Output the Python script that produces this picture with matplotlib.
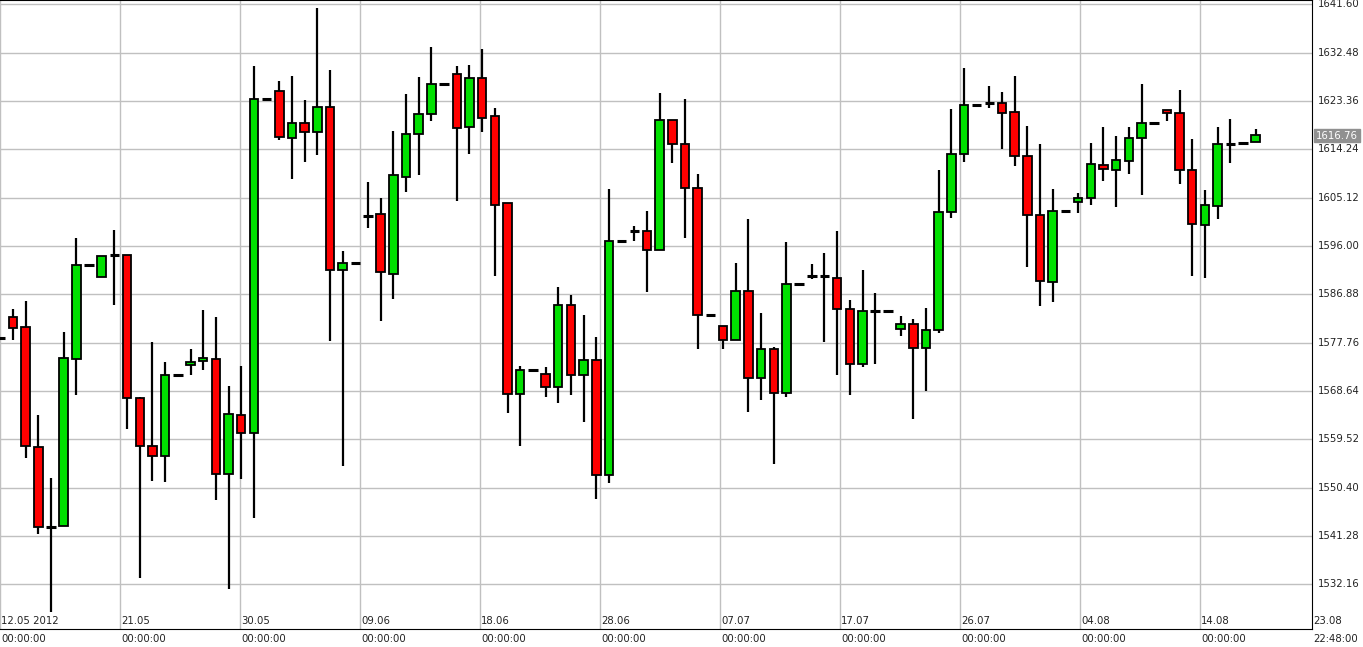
import matplotlib
matplotlib.use("Agg")
import matplotlib.pyplot as plt
import numpy as np

opens = [1578.6,1582.5,1580.6,1558.1,1542.9,1543.2,1574.7,1592.3,1590.2,1594.2,
         1594.2,1567.2,1558.3,1556.3,1571.7,1573.5,1574.2,1574.6,1553.0,1564.1,
         1560.6,1623.7,1625.2,1616.3,1619.2,1617.5,1622.2,1591.4,1592.7,1601.7,
         1602.0,1590.7,1609.0,1617.1,1620.9,1626.5,1628.4,1618.4,1627.7,1620.5,
         1604.1,1568.1,1572.5,1571.9,1569.4,1584.8,1571.6,1574.4,1552.8,1596.9,
         1598.8,1598.8,1595.2,1619.8,1615.2,1607.0,1582.9,1580.9,1578.3,1587.4,
         1571.1,1576.6,1568.3,1588.8,1590.4,1590.4,1590.0,1584.0,1573.7,1583.7,
         1583.8,1580.3,1581.3,1576.7,1580.1,1602.4,1613.4,1622.6,1623.0,1622.9,
         1621.2,1613.0,1601.8,1589.1,1602.5,1604.2,1605.1,1611.3,1610.4,1612.1,
         1616.3,1619.2,1621.6,1621.1,1610.3,1599.9,1603.6,1615.3,1615.5,1615.6]
closes = [1578.6,1580.5,1558.3,1542.9,1542.9,1574.9,1592.3,1592.3,1594.0,1594.2,
          1567.2,1558.3,1556.3,1571.7,1571.7,1574.1,1574.8,1553.0,1564.3,1560.6,
          1623.7,1623.7,1616.5,1619.2,1617.4,1622.2,1591.4,1592.7,1592.7,1601.7,
          1591.1,1609.4,1617.1,1620.9,1626.5,1626.5,1618.2,1627.7,1620.2,1603.8,
          1568.1,1572.5,1572.5,1569.4,1584.8,1571.6,1574.4,1552.8,1596.9,1596.9,
          1598.8,1595.2,1619.8,1615.2,1607.0,1582.9,1582.9,1578.3,1587.4,1571.1,
          1576.6,1568.3,1588.8,1588.8,1590.4,1590.4,1584.0,1573.7,1583.8,1583.7,
          1583.8,1581.3,1576.7,1580.1,1602.4,1613.4,1622.6,1622.6,1623.0,1621.0,
          1613.0,1601.8,1589.3,1602.5,1602.5,1605.1,1611.4,1610.5,1612.3,1616.3,
          1619.2,1619.2,1621.0,1610.3,1600.2,1603.8,1615.2,1615.3,1615.5,1616.9]
highs = [1578.6,1584.1,1585.6,1564.1,1552.2,1579.8,1597.5,1592.3,1594.0,1599.0,
         1594.2,1567.5,1577.9,1574.1,1571.7,1576.6,1583.9,1582.6,1569.5,1573.4,
         1629.9,1623.7,1627.2,1628.0,1623.5,1640.8,1629.1,1595.0,1592.7,1608.1,
         1605.0,1617.7,1624.6,1627.9,1633.5,1626.5,1629.9,1630.1,1633.2,1622.0,
         1604.1,1573.4,1572.5,1573.1,1588.2,1586.8,1582.9,1578.8,1606.8,1596.9,
         1599.7,1602.5,1624.8,1619.8,1623.7,1609.6,1582.9,1580.9,1592.8,1601.1,
         1583.3,1576.9,1596.8,1588.8,1592.6,1594.7,1598.9,1585.8,1591.5,1587.2,
         1583.8,1582.8,1582.2,1584.3,1610.4,1621.9,1629.5,1622.6,1626.2,1625.0,
         1628.0,1618.6,1615.2,1606.7,1602.5,1606.0,1615.4,1618.4,1616.7,1618.4,
         1626.5,1619.2,1621.6,1625.5,1616.2,1606.5,1618.5,1620.0,1615.5,1618.0]
lows = [1578.6,1578.3,1555.9,1541.6,1526.9,1543.2,1567.9,1592.3,1590.2,1584.8,
        1561.4,1533.4,1551.7,1551.4,1571.7,1571.6,1572.6,1548.0,1531.2,1552.1,
        1544.7,1623.7,1615.9,1608.7,1611.8,1613.2,1578.1,1554.5,1592.7,1599.4,
        1581.8,1586.0,1606.2,1609.4,1619.6,1626.5,1604.5,1613.4,1617.5,1590.3,
        1564.4,1558.2,1572.5,1567.4,1566.3,1567.8,1562.8,1548.2,1551.3,1596.9,
        1597.0,1587.3,1595.2,1611.6,1597.5,1576.5,1582.9,1576.5,1578.2,1564.6,
        1567.0,1554.9,1567.5,1588.8,1589.7,1577.8,1571.6,1567.8,1573.2,1573.7,
        1583.8,1579.0,1563.3,1568.7,1579.6,1601.3,1611.9,1622.6,1622.1,1614.3,
        1611.0,1592.0,1584.7,1585.4,1602.5,1602.2,1603.7,1608.3,1603.4,1609.6,
        1605.6,1619.2,1619.6,1607.6,1590.3,1590.0,1601.0,1611.6,1615.5,1615.6]

date_labels = ["12.05 2012","21.05","30.05","09.06","18.06","28.06","07.07",
               "17.07","26.07","04.08","14.08"]
price_ticks = [1641.60,1632.48,1623.36,1614.24,1605.12,1596.00,1586.88,
               1577.76,1568.64,1559.52,1550.40,1541.28,1532.16]
last_price = 1616.76

W, H = 1363, 647
fig = plt.figure(figsize=(W/100, H/100), dpi=100)
axw = 1312
ax = fig.add_axes([0, 18/H, axw/W, 1-18/H])
ax.set_xlim(0, axw)
ax.set_ylim(1523.7, 1642.4)

step = 12.68
xs = 0.3 + step*np.arange(len(opens))
for x in [0,120,240,360,480,600,720,840,960,1080,1200]:
    ax.axvline(x, color='#c0c0c0', lw=1, zorder=0)
for p in price_ticks:
    ax.axhline(p, color='#c0c0c0', lw=1, zorder=0)

bw = 8.5
for x, o, c, h, l in zip(xs, opens, closes, highs, lows):
    ax.vlines(x, l, h, color='black', lw=1.6, zorder=2)
    if abs(o-c) < 0.3:
        ax.hlines(o, x-bw/2-0.5, x+bw/2+0.5, color='black', lw=2.2, zorder=3)
    else:
        col = '#00e000' if c > o else '#ff0000'
        ax.bar(x, c-o, bottom=o, width=bw, color=col, edgecolor='black', lw=1.3, zorder=3)

for sp in ['left']:
    ax.spines[sp].set_visible(False)
for sp in ['top','right','bottom']:
    ax.spines[sp].set_color('black')
ax.set_xticks([]); ax.set_yticks([])

fs = 7.3
for i, lab in enumerate(date_labels):
    x = i*120
    ax.text(x+1, 1524.3, lab, fontsize=fs, ha='left', va='bottom', color='#222')
    fig.text((x+1)/W, 3/H, "00:00:00", fontsize=fs, ha='left', va='bottom', color='#222')
fig.text((axw+1)/W, 21/H, "23.08", fontsize=fs, ha='left', va='bottom', color='#222')
fig.text((axw+1)/W, 3/H, "22:48:00", fontsize=fs, ha='left', va='bottom', color='#222')

for p in price_ticks:
    ax.text(axw+6, p, f"{p:.2f}", transform=ax.transData, fontsize=fs,
            ha='left', va='center', color='#222', clip_on=False)
ax.text(axw+4, last_price, f"{last_price:.2f}", fontsize=fs, ha='left', va='center',
        color='white', clip_on=False,
        bbox=dict(boxstyle='square,pad=0.15', fc='#909090', ec='#909090'))

fig.savefig("out.png", dpi=100)
